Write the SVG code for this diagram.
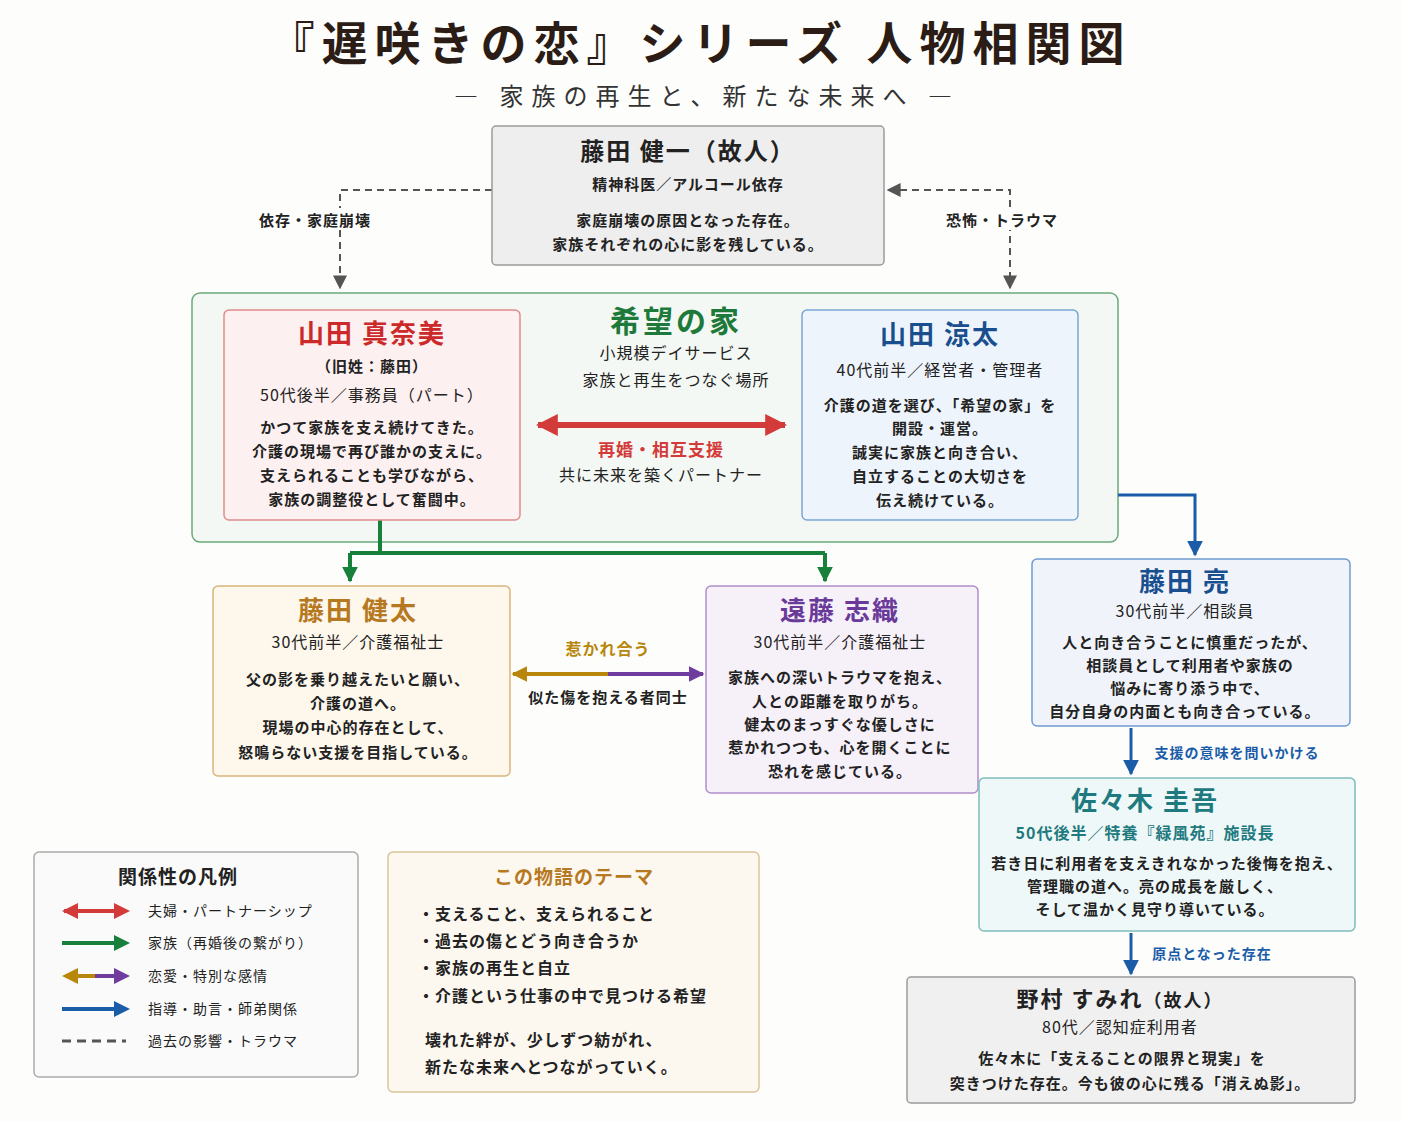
<svg xmlns="http://www.w3.org/2000/svg" width="1402" height="1122" viewBox="0 0 1402 1122">
<style>
text{font-family:"Noto Sans CJK JP","Noto Sans",sans-serif;fill:#222;text-anchor:middle;letter-spacing:1px}
.b{font-weight:bold}
.t{font-size:15px;font-weight:bold}
.s{font-size:16px}
.n{font-size:26px;font-weight:bold;letter-spacing:2px}
.box{stroke-width:1.5}
.lg{font-size:14px;text-anchor:start}
</style>
<defs>
<marker id="ag" viewBox="0 0 10 10" refX="9" refY="5" markerWidth="14" markerHeight="14" markerUnits="userSpaceOnUse" orient="auto-start-reverse"><path d="M0,0L10,5L0,10z" fill="#555"/></marker>
<marker id="ar" viewBox="0 0 10 10" refX="9" refY="5" markerWidth="22" markerHeight="22" markerUnits="userSpaceOnUse" orient="auto-start-reverse"><path d="M0,0L10,5L0,10z" fill="#d33a3a"/></marker>
<marker id="agr" viewBox="0 0 10 10" refX="9" refY="5" markerWidth="16" markerHeight="16" markerUnits="userSpaceOnUse" orient="auto-start-reverse"><path d="M0,0L10,5L0,10z" fill="#17803a"/></marker>
<marker id="ab" viewBox="0 0 10 10" refX="9" refY="5" markerWidth="16" markerHeight="16" markerUnits="userSpaceOnUse" orient="auto-start-reverse"><path d="M0,0L10,5L0,10z" fill="#1a5ca8"/></marker>
<marker id="ap" viewBox="0 0 10 10" refX="9" refY="5" markerWidth="16" markerHeight="16" markerUnits="userSpaceOnUse" orient="auto-start-reverse"><path d="M0,0L10,5L0,10z" fill="#6e3d9e"/></marker>
<marker id="ao" viewBox="0 0 10 10" refX="9" refY="5" markerWidth="16" markerHeight="16" markerUnits="userSpaceOnUse" orient="auto-start-reverse"><path d="M0,0L10,5L0,10z" fill="#b8860b"/></marker>
</defs>
<rect width="1402" height="1122" fill="#fdfdfc"/>
<text x="700" y="60" class="b" style="font-size:46px;fill:#2b1d16;letter-spacing:7px">『遅咲きの恋』シリーズ 人物相関図</text>
<text x="707" y="105" style="font-size:24px;fill:#333;letter-spacing:8px">― 家族の再生と、新たな未来へ ―</text>

<g id="container-kibou">
<rect x="192" y="293" width="926" height="249" rx="8" fill="#f4f8f4" stroke="#6aa97a" class="box"/>
<text x="676" y="332" class="b" style="font-size:30px;fill:#1e7a3a;letter-spacing:3px">希望の家</text>
<text x="676" y="359" class="s">小規模デイサービス</text>
<text x="676" y="386" class="s">家族と再生をつなぐ場所</text>
<text x="661" y="456" class="b" style="font-size:17px;fill:#d33a3a">再婚・相互支援</text>
<text x="661" y="481" class="s">共に未来を築くパートナー</text>
</g>

<g id="connectors" fill="none">
<path d="M492,190H340V288" stroke="#555" stroke-width="2" stroke-dasharray="7,5" marker-end="url(#ag)"/>
<path d="M888,190H1010V288" stroke="#555" stroke-width="2" stroke-dasharray="7,5" marker-start="url(#ag)" marker-end="url(#ag)"/>
<path d="M538,425H785" stroke="#d33a3a" stroke-width="6" marker-start="url(#ar)" marker-end="url(#ar)"/>
<path d="M380,520V553M350,553H825M825,553V581" stroke="#17803a" stroke-width="4" marker-end="url(#agr)"/>
<path d="M350,553V581" stroke="#17803a" stroke-width="4" marker-end="url(#agr)"/>
<path d="M1118,495H1195V555" stroke="#1a5ca8" stroke-width="3" marker-end="url(#ab)"/>
<path d="M513,674H608" stroke="#b8860b" stroke-width="4" marker-start="url(#ao)"/>
<path d="M608,674H703" stroke="#6e3d9e" stroke-width="4" marker-end="url(#ap)"/>
<path d="M1131,728V774" stroke="#1a5ca8" stroke-width="3" marker-end="url(#ab)"/>
<path d="M1131,933V974" stroke="#1a5ca8" stroke-width="3" marker-end="url(#ab)"/>
<rect x="248" y="208" width="134" height="22" fill="#fdfdfc"/>
<rect x="937" y="208" width="130" height="22" fill="#fdfdfc"/>
<text x="315" y="226" class="t">依存・家庭崩壊</text>
<text x="1002" y="226" class="t">恐怖・トラウマ</text>
<text x="608" y="655" class="b" style="font-size:16px;fill:#b8860b">惹かれ合う</text>
<text x="608" y="703" class="t">似た傷を抱える者同士</text>
<text x="1237" y="758" class="b" style="font-size:14px;fill:#1a5ca8">支援の意味を問いかける</text>
<text x="1212" y="959" class="b" style="font-size:14px;fill:#1a5ca8">原点となった存在</text>
</g>

<g id="kenichi">
<rect x="492" y="126" width="392" height="139" rx="4" fill="#eeeeee" stroke="#9a9a9a" class="box"/>
<text x="688" y="160" class="b" style="font-size:24px;letter-spacing:2px">藤田 健一（故人）</text>
<text x="688" y="190" class="t">精神科医／アルコール依存</text>
<text x="688" y="226" class="t">家庭崩壊の原因となった存在。</text>
<text x="688" y="250" class="t">家族それぞれの心に影を残している。</text>
</g>

<g id="manami">
<rect x="224" y="310" width="296" height="210" rx="5" fill="#fdf0f0" stroke="#e08a8a" class="box"/>
<text x="372" y="343" class="n" style="fill:#cc2a2a">山田 真奈美</text>
<text x="372" y="372" class="t">（旧姓：藤田）</text>
<text x="372" y="401" class="s">50代後半／事務員（パート）</text>
<text x="372" y="433" class="t">かつて家族を支え続けてきた。</text>
<text x="372" y="457" class="t">介護の現場で再び誰かの支えに。</text>
<text x="372" y="481" class="t">支えられることも学びながら、</text>
<text x="372" y="505" class="t">家族の調整役として奮闘中。</text>
</g>

<g id="ryota">
<rect x="802" y="310" width="276" height="210" rx="5" fill="#eef4fb" stroke="#7aa6d6" class="box"/>
<text x="940" y="344" class="n" style="fill:#1a4f8f">山田 涼太</text>
<text x="940" y="376" class="s">40代前半／経営者・管理者</text>
<text x="940" y="411" class="t">介護の道を選び、「希望の家」を</text>
<text x="940" y="434" class="t">開設・運営。</text>
<text x="940" y="458" class="t">誠実に家族と向き合い、</text>
<text x="940" y="482" class="t">自立することの大切さを</text>
<text x="940" y="506" class="t">伝え続けている。</text>
</g>

<g id="kenta">
<rect x="213" y="586" width="297" height="190" rx="5" fill="#fdf7ec" stroke="#d9b57a" class="box"/>
<text x="358" y="620" class="n" style="fill:#b7791f">藤田 健太</text>
<text x="358" y="648" class="s">30代前半／介護福祉士</text>
<text x="358" y="685" class="t">父の影を乗り越えたいと願い、</text>
<text x="358" y="709" class="t">介護の道へ。</text>
<text x="358" y="733" class="t">現場の中心的存在として、</text>
<text x="358" y="758" class="t">怒鳴らない支援を目指している。</text>
</g>

<g id="shiori">
<rect x="706" y="586" width="272" height="207" rx="5" fill="#f6f0f9" stroke="#b08ec9" class="box"/>
<text x="840" y="620" class="n" style="fill:#6a3a9a">遠藤 志織</text>
<text x="840" y="648" class="s">30代前半／介護福祉士</text>
<text x="840" y="683" class="t">家族への深いトラウマを抱え、</text>
<text x="840" y="707" class="t">人との距離を取りがち。</text>
<text x="840" y="730" class="t">健太のまっすぐな優しさに</text>
<text x="840" y="753" class="t">惹かれつつも、心を開くことに</text>
<text x="840" y="777" class="t">恐れを感じている。</text>
</g>

<g id="ryo">
<rect x="1032" y="559" width="318" height="167" rx="5" fill="#f0f4fa" stroke="#6f9ccf" class="box"/>
<text x="1185" y="591" class="n" style="fill:#1a4f8f">藤田 亮</text>
<text x="1185" y="617" class="s">30代前半／相談員</text>
<text x="1190" y="648" class="t">人と向き合うことに慎重だったが、</text>
<text x="1190" y="671" class="t">相談員として利用者や家族の</text>
<text x="1190" y="694" class="t">悩みに寄り添う中で、</text>
<text x="1185" y="717" class="t">自分自身の内面とも向き合っている。</text>
</g>

<g id="sasaki">
<rect x="979" y="778" width="376" height="153" rx="5" fill="#eff8f8" stroke="#7fbcbc" class="box"/>
<text x="1145" y="810" class="n" style="fill:#1f7a80">佐々木 圭吾</text>
<text x="1145" y="839" class="b" style="font-size:16px;fill:#1f7a80">50代後半／特養『緑風苑』施設長</text>
<text x="1167" y="869" class="t">若き日に利用者を支えきれなかった後悔を抱え、</text>
<text x="1155" y="892" class="t">管理職の道へ。亮の成長を厳しく、</text>
<text x="1155" y="915" class="t">そして温かく見守り導いている。</text>
</g>

<g id="nomura">
<rect x="907" y="977" width="448" height="126" rx="4" fill="#f0f0f0" stroke="#9a9a9a" class="box"/>
<text x="1120" y="1007" class="b" style="font-size:22px;letter-spacing:2px">野村 すみれ<tspan style="font-size:18px">（故人）</tspan></text>
<text x="1120" y="1033" class="s">80代／認知症利用者</text>
<text x="1122" y="1064" class="t">佐々木に「支えることの限界と現実」を</text>
<text x="1130" y="1089" class="t">突きつけた存在。今も彼の心に残る「消えぬ影」。</text>
</g>

<g id="legend">
<rect x="34" y="852" width="324" height="225" rx="5" fill="#fafafa" stroke="#aaa" class="box"/>
<text x="178" y="884" class="b" style="font-size:19px">関係性の凡例</text>
<path d="M64,911H126" stroke="#d33a3a" stroke-width="4"/>
<path d="M62,911l16,-8v16zM130,911l-16,-8v16z" fill="#d33a3a"/>
<path d="M62,943H116" stroke="#17803a" stroke-width="4"/>
<path d="M130,943l-16,-8v16z" fill="#17803a"/>
<path d="M70,976H95" stroke="#b8860b" stroke-width="4"/>
<path d="M95,976H120" stroke="#6e3d9e" stroke-width="4"/>
<path d="M62,976l16,-8v16z" fill="#b8860b"/>
<path d="M130,976l-16,-8v16z" fill="#6e3d9e"/>
<path d="M62,1009H116" stroke="#1a5ca8" stroke-width="4"/>
<path d="M130,1009l-16,-8v16z" fill="#1a5ca8"/>
<path d="M62,1041H126" stroke="#555" stroke-width="3" stroke-dasharray="9,6"/>
<text x="148" y="916" class="lg">夫婦・パートナーシップ</text>
<text x="148" y="948" class="lg">家族（再婚後の繋がり）</text>
<text x="148" y="981" class="lg">恋愛・特別な感情</text>
<text x="148" y="1014" class="lg">指導・助言・師弟関係</text>
<text x="148" y="1046" class="lg">過去の影響・トラウマ</text>
</g>

<g id="theme">
<rect x="388" y="852" width="371" height="240" rx="5" fill="#fcf8f0" stroke="#dcc39b" class="box"/>
<text x="574" y="884" class="b" style="font-size:19px;fill:#b7791f">この物語のテーマ</text>
<g style="font-size:16px;font-weight:bold">
<text x="418" y="920" style="text-anchor:start">・支えること、支えられること</text>
<text x="418" y="947" style="text-anchor:start">・過去の傷とどう向き合うか</text>
<text x="418" y="974" style="text-anchor:start">・家族の再生と自立</text>
<text x="418" y="1002" style="text-anchor:start">・介護という仕事の中で見つける希望</text>
<text x="425" y="1046" style="text-anchor:start">壊れた絆が、少しずつ紡がれ、</text>
<text x="425" y="1073" style="text-anchor:start">新たな未来へとつながっていく。</text>
</g>
</g>
</svg>
